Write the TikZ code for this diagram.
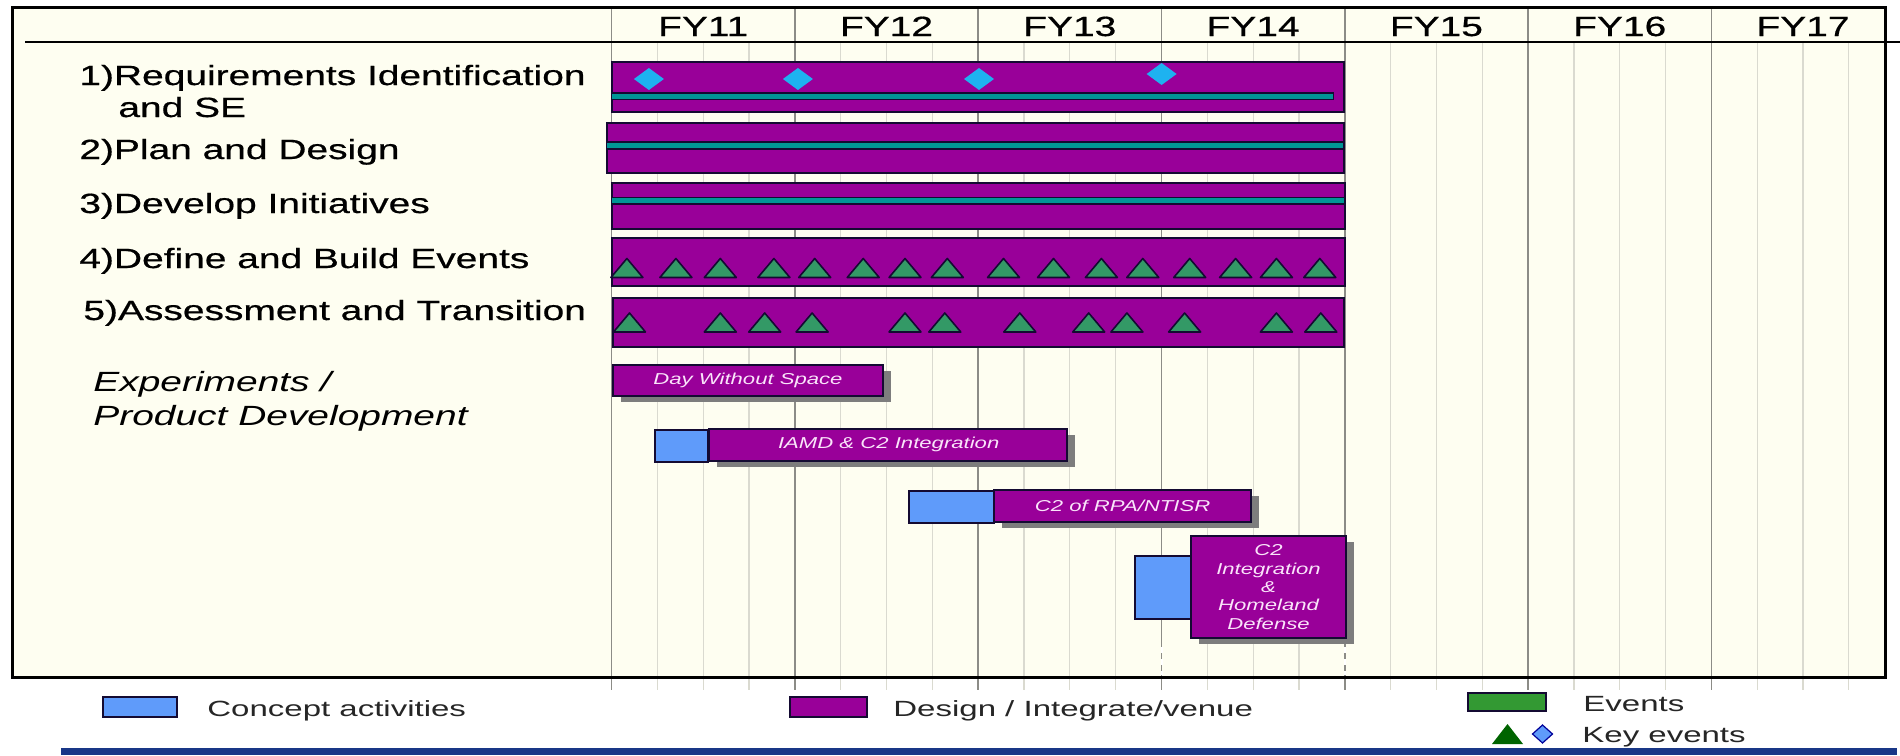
\documentclass[tikz,border=0pt]{standalone}
\usepackage{fontspec}
\setmainfont{Liberation Sans}
\newfontfamily\labelfont{Liberation Sans}[FakeStretch=1.4,FakeBold=0.6]
\newfontfamily\barfont{Liberation Sans}[FakeStretch=1.4]
\newfontfamily\legendfont{Liberation Sans}[FakeStretch=1.5]
\usepackage{tikz}
\usetikzlibrary{shadows}

\definecolor{cream}{RGB}{254,254,241}
\definecolor{barpurple}{RGB}{153,0,153}
\definecolor{barteal}{RGB}{0,150,150}
\definecolor{keyblue}{RGB}{30,178,240}
\definecolor{evgreen}{RGB}{51,153,102}
\definecolor{conceptblue}{RGB}{95,155,250}
\definecolor{majorgrid}{RGB}{140,140,135}
\definecolor{minorgrid}{RGB}{218,218,208}
\definecolor{shadowgray}{RGB}{125,125,125}
\definecolor{navyline}{RGB}{25,55,135}
\definecolor{legendgreen}{RGB}{51,153,51}
\definecolor{keygreen}{RGB}{0,100,0}
\definecolor{bartextcol}{RGB}{250,228,250}
\definecolor{edge}{RGB}{20,10,50}

\begin{document}
\begin{tikzpicture}[x=0.5pt,y=-0.5pt,
  bar/.style={fill=barpurple,draw=edge,line width=1pt},
  tealline/.style={fill=barteal,draw=edge,line width=0.6pt},
  concept/.style={fill=conceptblue,draw=edge,line width=1pt},
  expbar/.style={bar,drop shadow={shadow xshift=4pt,shadow yshift=-3pt,fill=shadowgray,opacity=1}},
  evtri/.style={fill=evgreen,draw=edge,line width=0.8pt,line join=round},
  rowlabel/.style={anchor=base west,inner sep=0pt,font=\labelfont\fontsize{13.9}{16}\selectfont},
  yearlabel/.style={anchor=base,inner sep=0pt,font=\labelfont\fontsize{13.9}{16}\selectfont},
  bartext/.style={inner sep=0pt,text=bartextcol,align=center,font=\barfont\itshape\fontsize{7.9}{9.15}\selectfont},
  legendtext/.style={anchor=base west,inner sep=0pt,text=black!85,font=\legendfont\fontsize{11}{13}\selectfont}]
  \useasboundingbox[fill=white] (0,0) rectangle (1900,755);
  \fill[cream] (12,7) rectangle (1885,677);
  \foreach \i in {0,...,6} {
    \foreach \q in {1,2,3}
      \draw[minorgrid,line width=0.6pt] ({611.6+183.3*\i+45.8*\q},42) -- ++(0,648);
    \draw[majorgrid,line width=0.8pt] ({611.6+183.3*\i},7) -- ++(0,683);
  }
  \draw[line width=1pt] (25,42) -- (1900,42);
  \draw[line width=1.5pt] (12,7) rectangle (1885,677);
  \foreach \yr [count=\i from 0] in {11,...,17}
    \node[yearlabel] (fy\yr) at ({703.2+183.3*\i},36) {FY\yr};

  \node[rowlabel] (req) at (79,85) {1)Requirements Identification};
  \node[rowlabel] (reqse) at (118,117) {and SE};
  \node[rowlabel] (plan) at (79,159) {2)Plan and Design};
  \node[rowlabel] (devinit) at (79,213) {3)Develop Initiatives};
  \node[rowlabel] (build) at (79,268) {4)Define and Build Events};
  \node[rowlabel] (assess) at (83,320) {5)Assessment and Transition};
  \node[rowlabel,font=\barfont\itshape\fontsize{13.9}{16}\selectfont] (exper) at (93,391.7) {Experiments /};
  \node[rowlabel,font=\barfont\itshape\fontsize{13.9}{16}\selectfont] (product) at (93,425) {Product Development};

  \draw[bar] (611.6,62) rectangle (1343.5,112.3);
  \draw[tealline] (611.6,93) rectangle (1333.6,99.5);
  \foreach \x/\y in {648.9/79,797.9/79,979/79,1161.6/74}
    \fill[keyblue] (\x-15,\y) -- (\x,\y-11) -- (\x+15,\y) -- (\x,\y+11) -- cycle;
  \draw[bar] (606.5,122.5) rectangle (1343.5,173.3);
  \draw[tealline] (606.5,142) rectangle (1343.5,149);
  \draw[bar] (611.6,183.3) rectangle (1344.5,229.3);
  \draw[tealline] (611.6,197.5) rectangle (1344.5,204);
  \draw[bar] (611.6,237.5) rectangle (1344.5,286);
  \foreach \x in {626.9,675.9,720.3,773.9,814.7,863.2,905,947.3,1003.5,1053.5,1101.4,1142.8,1189.7,1235.6,1276.4,1319.8}
    \draw[evtri] (\x-16,277.5) -- (\x,258.5) -- (\x+16,277.5) -- cycle;
  \draw[bar] (613,297.5) rectangle (1343.5,347);
  \foreach \x in {629.5,720.3,764.7,812.1,905,944.8,1019.8,1088.7,1126.9,1184.6,1276.4,1320.8}
    \draw[evtri] (\x-16,332) -- (\x,313) -- (\x+16,332) -- cycle;

  \draw[expbar] (613,365) rectangle (882.6,395.7);
  \node[bartext] (dws) at (748,380.5) {Day Without Space};
  \draw[concept] (655,430) rectangle (707.6,462.3);
  \draw[expbar] (709,429) rectangle (1067.2,460.7);
  \node[bartext] (iamd) at (888.7,444.8) {IAMD \& C2 Integration};
  \draw[concept] (909,490.7) rectangle (994.3,523.3);
  \draw[expbar] (994.3,490) rectangle (1251,522.3);
  \node[bartext] (rpa) at (1122.6,506) {C2 of RPA/NTISR};
  \draw[concept] (1134.6,555.7) rectangle (1190.7,619);
  \draw[expbar] (1190.7,536) rectangle (1346.3,638.3);
  \node[bartext] (homeland) at (1268.5,587) {C2\\Integration\\\&\\Homeland\\Defense};
  \foreach \x in {1161.6,1344.8}
    \draw[white,line width=1pt,dash pattern=on 3pt off 3pt] (\x,647) -- (\x,675);

  \draw[concept] (103,697) rectangle (177,717);
  \node[legendtext] (lgconcept) at (207,716) {Concept activities};
  \draw[bar] (790,697) rectangle (867,717);
  \node[legendtext] (lgdesign) at (893,716) {Design / Integrate/venue};
  \draw[fill=legendgreen,draw=edge,line width=1pt] (1468,693) rectangle (1546,711);
  \node[legendtext] (lgevents) at (1583,711) {Events};
  \fill[keygreen] (1492,744) -- (1507.5,724) -- (1523,744) -- cycle;
  \draw[fill=conceptblue,draw=blue!60!black,line width=0.6pt] (1532.5,734) -- (1542.5,725) -- (1552.5,734) -- (1542.5,743) -- cycle;
  \node[legendtext] (lgkey) at (1582,742) {Key events};
  \fill[navyline] (61,748) rectangle (1897,755);
\end{tikzpicture}
\end{document}
